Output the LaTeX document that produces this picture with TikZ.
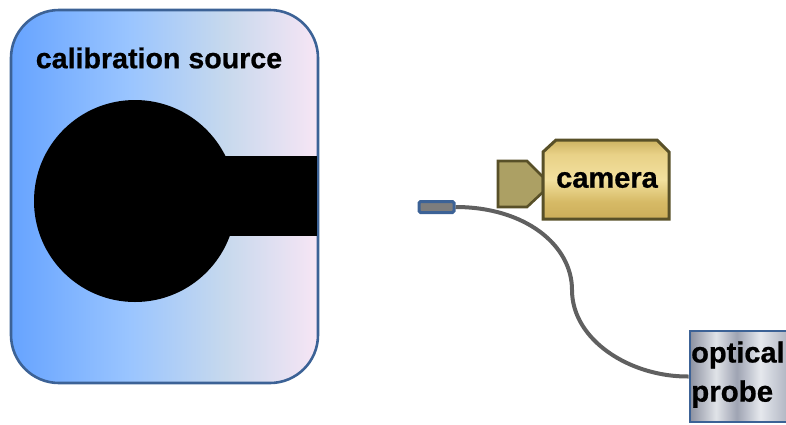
\documentclass[tikz,border=0pt]{standalone}
\usepackage{fontspec}
\setmainfont{Liberation Sans}[BoldFeatures={FakeBold=0.7}]
\definecolor{cableGray}{RGB}{96,96,96}
\definecolor{sourceEdge}{RGB}{60,98,150}
\definecolor{cameraEdge}{RGB}{88,80,40}
\definecolor{lensFill}{RGB}{172,160,100}
\definecolor{tipFill}{RGB}{125,125,125}
\pgfdeclarehorizontalshading{sourceShade}{100bp}{
  rgb(0bp)=(0.40,0.64,1.00);
  rgb(25bp)=(0.40,0.64,1.00);
  rgb(44bp)=(0.60,0.77,1.00);
  rgb(60bp)=(0.78,0.85,0.93);
  rgb(75bp)=(0.97,0.90,0.96);
  rgb(100bp)=(0.97,0.90,0.96)}
\pgfdeclareverticalshading{cameraShade}{100bp}{
  rgb(0bp)=(0.80,0.68,0.35);
  rgb(25bp)=(0.80,0.68,0.35);
  rgb(36bp)=(0.84,0.73,0.40);
  rgb(50bp)=(0.95,0.88,0.62);
  rgb(66bp)=(0.91,0.82,0.53);
  rgb(75bp)=(0.80,0.70,0.38);
  rgb(100bp)=(0.80,0.70,0.38)}
\pgfdeclarehorizontalshading{probeShade}{100bp}{
  rgb(0bp)=(0.55,0.57,0.63);
  rgb(25bp)=(0.55,0.57,0.63);
  rgb(35bp)=(0.88,0.89,0.91);
  rgb(43bp)=(0.62,0.64,0.70);
  rgb(52bp)=(0.90,0.91,0.93);
  rgb(62bp)=(0.70,0.72,0.77);
  rgb(75bp)=(0.88,0.89,0.91);
  rgb(100bp)=(0.88,0.89,0.91)}
\tikzset{
  label text/.style={text=black,inner sep=0pt},
  source box/.style={draw=sourceEdge,line width=2.6pt,rounded corners=48pt,shading=sourceShade,
    minimum width=307pt,minimum height=373pt,inner sep=0pt},
  probe box/.style={draw=sourceEdge,line width=2.8pt,shading=probeShade,
    minimum width=130pt,minimum height=91pt,inner sep=0pt},
  probe tip/.style={draw=sourceEdge,fill=tipFill,line width=3pt,rounded corners=1.5pt,
    minimum width=35pt,minimum height=11pt,inner sep=0pt}
}
\begin{document}
\begin{tikzpicture}[x=1pt,y=-1pt]
  \useasboundingbox (0,0) rectangle (786,424);

  \node[source box] (source) at (164.5,196.5) {};
  \node[label text,font=\bfseries\fontsize{28.6}{28.6}\selectfont] (sourcetext) at (159,58) {calibration source};
  \fill[black] (135,201) circle (101);
  \fill[black] (200,156) rectangle (317,236);

  \draw[draw=cameraEdge,fill=lensFill,line width=2.6pt]
    (498,161) -- (527,161) -- (543,177) -- (543,192) -- (527,207) -- (498,207) -- cycle;
  \draw[draw=cameraEdge,shading=cameraShade,line width=3pt]
    (543,152) -- (556,140) -- (657,140) -- (669,152) -- (669,219) -- (543,219) -- cycle;
  \node[label text,font=\bfseries\fontsize{29}{29}\selectfont] (cameratext) at (607,180) {camera};

  \node[probe box] (probe) at (755,376.5) {};
  \node[label text,font=\bfseries\fontsize{29}{29}\selectfont,anchor=west] (opticaltext) at (691,355) {optical};
  \node[label text,font=\bfseries\fontsize{29.5}{29.5}\selectfont,anchor=west] (probetext) at (691,394) {probe};

  \node[probe tip] (tip) at (436.5,207) {};

  \draw[cableGray,line width=4pt] (tip.east) .. controls (525,207) and (572,245) .. (572,290)
    .. controls (572,340) and (630,377) .. (probe.west);
\end{tikzpicture}
\end{document}
